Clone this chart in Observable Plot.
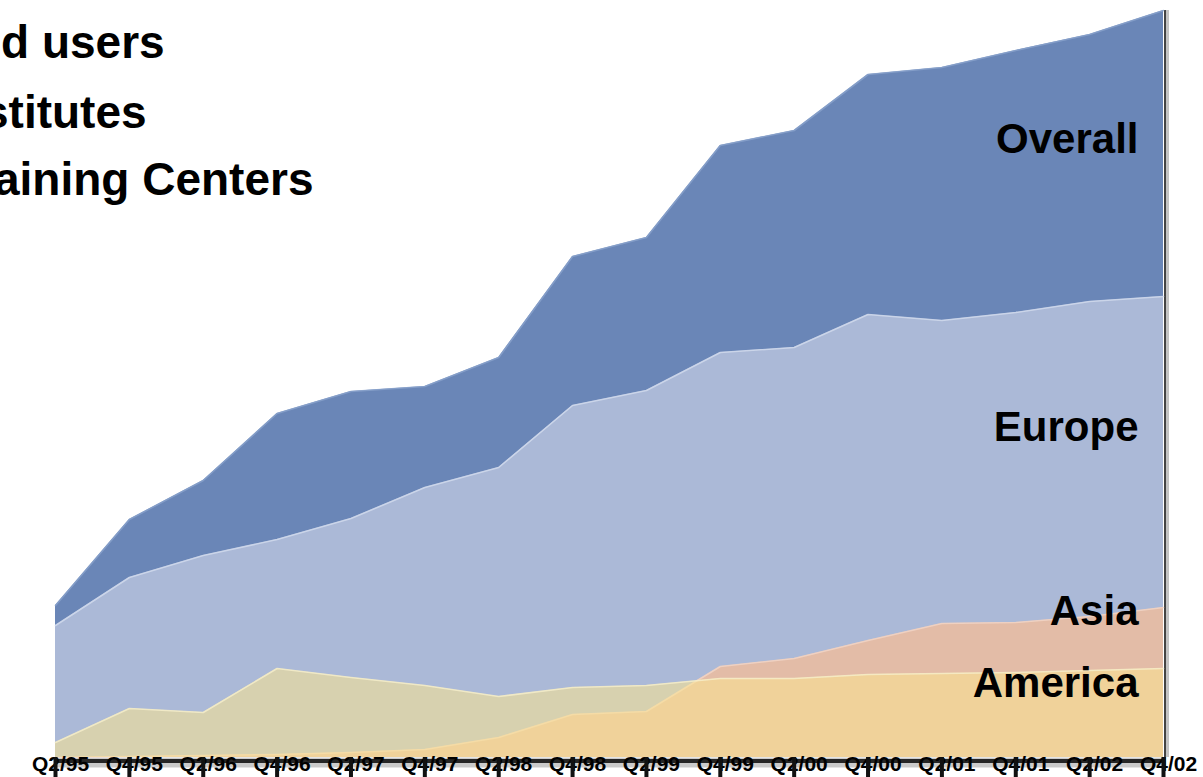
<!DOCTYPE html>
<html>
<head>
<meta charset="utf-8">
<script src="https://cdn.jsdelivr.net/npm/d3@7"></script>
<script src="https://cdn.jsdelivr.net/npm/@observablehq/plot@0.6"></script>
<style>
  html, body { margin: 0; padding: 0; background: #fff; }
  #wrap { position: relative; width: 1203px; height: 777px; overflow: hidden;
          font-family: "Liberation Sans", Arial, Helvetica, sans-serif; }
  #chart { position: absolute; left: 0; top: 0; }
  .title { position: absolute; font-weight: bold; font-size: 46px; line-height: 46px;
           white-space: nowrap; color: #000; }
</style>
</head>
<body>
<div id="wrap">
  <div id="chart"></div>
</div>
<script>
// ---- data ----
const quarters = ["Q2/95","Q4/95","Q2/96","Q4/96","Q2/97","Q4/97","Q2/98","Q4/98",
                  "Q2/99","Q4/99","Q2/00","Q4/00","Q2/01","Q4/01","Q2/02","Q4/02"];
const overall = [152, 238, 277, 344, 366, 371, 400, 501, 520, 612, 627, 683, 690, 707, 723, 747];
const europe  = [132, 180, 202, 218, 239, 270, 290, 352, 367, 405, 410, 443, 437, 445, 456, 461];
const asia    = [  0,   1,   2,   3,   5,   8,  20,  43,  46,  91,  99, 117, 134, 135, 141, 150];
const america = [ 15,  49,  45,  89,  80,  72,  61,  70,  72,  79,  79,  83,  84,  85,  87,  89];
const seriesNames = ["Overall", "Europe", "Asia", "America"];
const titleLines = ["d users", "stitutes", "aining Centers"];

// ---- build table ----
const values = {Overall: overall, Europe: europe, Asia: asia, America: america};
const rows = quarters.map((q, i) => ({q, Overall: overall[i], Europe: europe[i], Asia: asia[i], America: america[i]}));
const last = quarters.length - 1;

const colors = {Overall: "#6a86b7", Europe: "#abb9d7", Asia: "#e3bca7", America: "#f9e591"};
const edge = {Overall: "#8aa2cc", Europe: "#d3dcee", Asia: "#f1d6c8", America: "#f6efcc"};

// label anchor: middle between the series top and the next series below, at the last quarter
const below = {Overall: europe, Europe: asia, Asia: america, America: null};
const labelRows = seriesNames.map(name => ({
  name,
  v: (values[name][last] + (below[name] ? below[name][last] : 0)) / 2
}));
const labelDy = {Overall: -14, Europe: -24, Asia: -26, America: -29};

const font = "'Liberation Sans', Arial, Helvetica, sans-serif";

const marks = [
  // floor shadow under the areas
  Plot.ruleY([0], {stroke: "#666", strokeWidth: 10, dy: 5, strokeOpacity: 0.35}),
  Plot.ruleY([0], {stroke: "#1c1c1c", strokeWidth: 4, dy: 3.5, strokeOpacity: 0.95}),
  // right side edge shadow
  Plot.ruleX([quarters[last]], {y1: 0, y2: overall[last], stroke: "#888", strokeWidth: 5, dx: 3, strokeOpacity: 0.5}),
  Plot.ruleX([quarters[last]], {y1: 0, y2: overall[last], stroke: "#444", strokeWidth: 2, dx: 1.5}),
];
for (const name of seriesNames) {
  marks.push(Plot.areaY(rows, {x: "q", y: name, fill: colors[name], fillOpacity: name === "America" ? 0.56 : 1}));
  marks.push(Plot.lineY(rows, {x: "q", y: name, stroke: edge[name], strokeWidth: 1.6, strokeOpacity: 0.8}));
}
marks.push(
  Plot.axisX({tickSize: 0, tickPadding: -1, fontSize: 21, fontWeight: "bold", fontFamily: font, dx: 5, fill: "#000", label: null}),
  Plot.axisX({tickSize: 20, stroke: "#111", strokeWidth: 4, tickFormat: () => "", label: null}),
);
for (const r of labelRows) {
  marks.push(Plot.text([r], {
    x: () => quarters[last], y: "v", text: "name",
    textAnchor: "end", lineAnchor: "middle", dx: -25, dy: labelDy[r.name],
    fontSize: 42, fontWeight: "bold", fontFamily: font, fill: "#000"
  }));
}

const chart = Plot.plot({
  width: 1203,
  height: 777,
  marginLeft: 55,
  marginRight: 40,
  marginTop: 10,
  marginBottom: 20,
  x: {type: "point", domain: quarters, padding: 0, round: false, axis: null, label: null},
  y: {domain: [0, d3.max(overall)], axis: null, label: null},
  style: {background: "transparent", fontFamily: font, overflow: "visible"},
  marks
});
document.getElementById("chart").appendChild(chart);

// title lines (cut off at the left edge as in the original slide)
const titleTops = [19, 89, 156];
const titleLefts = [1, -17, -6];
const wrap = document.getElementById("wrap");
titleLines.forEach((t, i) => {
  const d = document.createElement("div");
  d.className = "title";
  d.textContent = t;
  d.style.top = titleTops[i] + "px";
  d.style.left = titleLefts[i] + "px";
  wrap.appendChild(d);
});
</script>
</body>
</html>
